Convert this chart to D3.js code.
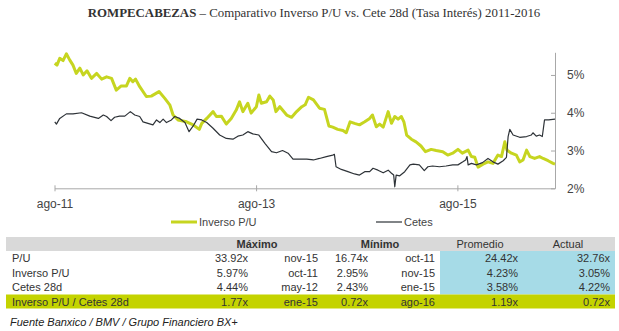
<!DOCTYPE html>
<html>
<head>
<meta charset="utf-8">
<script src="https://cdn.jsdelivr.net/npm/d3@7"></script>
<style>
  html, body { margin: 0; padding: 0; background: #fff; }
  svg { display: block; }
</style>
</head>
<body>
<svg id="chart" width="619" height="331"></svg>
<script>
// ---------------- DATA ----------------
const titleBold = "ROMPECABEZAS";
const titleRest = " \u2013 Comparativo Inverso P/U vs. Cete 28d (Tasa Interés) 2011-2016";

const seriesNames = ["Inverso P/U", "Cetes"];

const inversoPU = [
["2011-08-02",5.31],["2011-08-10",5.26],["2011-08-20",5.44],["2011-09-01",5.38],["2011-09-13",5.56],["2011-09-25",5.40],["2011-10-07",5.26],["2011-10-19",5.04],["2011-11-01",5.18],["2011-11-13",5.00],["2011-11-27",5.11],["2011-12-13",4.91],["2012-01-01",5.04],["2012-01-19",4.89],["2012-02-06",4.95],["2012-02-24",4.91],["2012-03-12",4.60],["2012-03-30",4.71],["2012-04-18",4.71],["2012-04-30",4.91],["2012-05-11",4.82],["2012-05-21",4.89],["2012-06-05",4.69],["2012-06-29",4.43],["2012-07-17",4.44],["2012-08-14",4.56],["2012-09-04",4.38],["2012-09-22",4.21],["2012-10-04",3.94],["2012-10-22",3.81],["2012-11-22",3.76],["2012-12-16",3.68],["2013-01-07",3.56],["2013-01-16",3.72],["2013-02-03",3.85],["2013-02-26",4.03],["2013-03-10",3.90],["2013-03-28",3.91],["2013-04-15",3.70],["2013-05-03",3.85],["2013-05-21",4.07],["2013-06-02",4.29],["2013-06-14",4.03],["2013-07-02",4.25],["2013-07-14",3.99],["2013-08-02",4.16],["2013-08-11",4.47],["2013-08-20",4.25],["2013-09-08",4.29],["2013-09-20",4.44],["2013-10-02",4.34],["2013-10-12",4.03],["2013-10-26",4.16],["2013-11-20",3.94],["2013-12-08",3.88],["2013-12-26",4.03],["2014-01-14",4.16],["2014-01-26",4.21],["2014-02-07",4.41],["2014-02-25",4.34],["2014-03-19",4.12],["2014-04-06",4.09],["2014-04-22",3.65],["2014-05-06",3.62],["2014-05-24",3.56],["2014-06-12",3.53],["2014-06-24",3.47],["2014-07-08",3.76],["2014-07-24",3.72],["2014-08-11",3.68],["2014-08-30",3.76],["2014-09-17",3.85],["2014-09-27",3.94],["2014-10-11",3.63],["2014-10-23",3.70],["2014-11-05",3.62],["2014-11-23",4.03],["2014-12-05",3.72],["2014-12-17",3.90],["2014-12-29",3.83],["2015-01-10",3.90],["2015-01-19",3.76],["2015-01-29",3.41],["2015-02-15",3.30],["2015-03-04",3.23],["2015-03-22",3.12],["2015-04-07",2.97],["2015-04-28",3.03],["2015-05-16",3.00],["2015-06-09",2.97],["2015-06-27",2.88],["2015-07-15",2.93],["2015-08-03",3.03],["2015-08-19",2.93],["2015-09-09",3.01],["2015-09-21",2.84],["2015-10-03",2.82],["2015-10-15",2.56],["2015-11-02",2.64],["2015-11-20",2.70],["2015-12-08",2.66],["2015-12-26",2.88],["2016-01-08",2.84],["2016-01-20",3.23],["2016-01-28",3.01],["2016-02-13",2.93],["2016-03-02",2.88],["2016-03-14",2.70],["2016-03-26",2.75],["2016-04-08",3.01],["2016-04-20",2.84],["2016-05-07",2.79],["2016-05-25",2.84],["2016-06-07",2.79],["2016-06-25",2.73],["2016-07-13",2.66],["2016-07-20",2.64]
];

const cetes = [
["2011-08-02",3.76],["2011-08-08",3.70],["2011-08-20",3.85],["2011-09-13",3.97],["2011-10-07",3.97],["2011-11-07",4.00],["2011-12-07",3.91],["2012-01-07",3.85],["2012-01-25",3.94],["2012-02-06",3.90],["2012-02-22",3.79],["2012-03-06",3.88],["2012-03-24",3.91],["2012-04-12",3.91],["2012-05-02",4.03],["2012-05-18",3.94],["2012-06-05",3.90],["2012-06-17",3.76],["2012-07-23",3.68],["2012-08-05",3.81],["2012-08-17",3.74],["2012-08-29",3.83],["2012-09-10",3.74],["2012-09-28",3.81],["2012-10-10",3.90],["2012-10-28",3.85],["2012-11-16",3.74],["2012-12-01",3.50],["2012-12-16",3.65],["2012-12-30",3.83],["2013-01-16",3.81],["2013-02-03",3.74],["2013-02-26",3.59],["2013-03-22",3.41],["2013-04-15",3.32],["2013-05-09",3.30],["2013-05-27",3.38],["2013-06-14",3.41],["2013-07-02",3.50],["2013-07-20",3.44],["2013-08-11",3.41],["2013-09-02",3.19],["2013-09-26",2.97],["2013-10-14",2.94],["2013-11-05",3.00],["2013-11-25",2.93],["2013-12-13",2.77],["2014-01-14",2.77],["2014-02-01",2.77],["2014-02-25",2.75],["2014-03-19",2.79],["2014-04-13",2.84],["2014-05-06",2.88],["2014-05-12",2.90],["2014-05-18",2.57],["2014-06-06",2.50],["2014-06-30",2.44],["2014-07-24",2.38],["2014-08-11",2.35],["2014-08-30",2.44],["2014-09-17",2.44],["2014-09-29",2.53],["2014-10-17",2.48],["2014-11-05",2.41],["2014-11-23",2.48],["2014-12-05",2.40],["2014-12-13",2.35],["2014-12-17",2.04],["2014-12-22",2.35],["2015-01-04",2.33],["2015-01-22",2.44],["2015-02-10",2.62],["2015-02-22",2.64],["2015-03-16",2.62],["2015-04-03",2.47],["2015-04-16",2.57],["2015-05-03",2.59],["2015-05-28",2.57],["2015-06-21",2.59],["2015-07-15",2.62],["2015-08-03",2.62],["2015-08-21",2.70],["2015-08-31",2.75],["2015-09-05",2.84],["2015-09-09",2.62],["2015-09-21",2.66],["2015-10-09",2.62],["2015-10-31",2.68],["2015-11-20",2.79],["2015-12-08",2.70],["2015-12-26",2.64],["2016-01-14",2.73],["2016-01-26",2.82],["2016-02-01",3.37],["2016-02-07",3.56],["2016-02-19",3.41],["2016-03-14",3.35],["2016-04-08",3.37],["2016-04-25",3.41],["2016-05-01",3.47],["2016-05-13",3.38],["2016-05-25",3.41],["2016-06-04",3.37],["2016-06-12",3.81],["2016-06-27",3.81],["2016-07-20",3.83]
];

const xTickDates = ["2011-08-01", "2013-08-01", "2015-08-01"];
const xTickLabels = ["ago-11", "ago-13", "ago-15"];
const yTicks = [2, 3, 4, 5];

const tableColumns = ["Máximo", "Mínimo", "Promedio", "Actual"];
const tableRows = ["P/U", "Inverso P/U", "Cetes 28d", "Inverso P/U / Cetes 28d"];
const maxValues = ["33.92x", "5.97%", "4.44%", "1.77x"];
const maxDates  = ["nov-15", "oct-11", "may-12", "ene-15"];
const minValues = ["16.74x", "2.95%", "2.43%", "0.72x"];
const minDates  = ["oct-11", "nov-15", "ene-15", "ago-16"];
const avgValues = ["24.42x", "4.23%", "3.58%", "1.19x"];
const actValues = ["32.76x", "3.05%", "4.22%", "0.72x"];

const sourceNote = "Fuente Banxico / BMV / Grupo Financiero BX+";

// ---------------- DRAW ----------------
const svg = d3.select("#chart");
const parse = d3.timeParse("%Y-%m-%d");
const SANS = "'Liberation Sans', Arial, sans-serif";
const GREEN = "#c6d520";
const DARK = "#2e3338";
const AXIS = "#a8a8a8";

// Title
const title = svg.append("text")
  .attr("x", 314).attr("y", 17)
  .attr("text-anchor", "middle")
  .attr("font-family", "'Liberation Serif', 'Times New Roman', serif")
  .attr("font-size", 13)
  .attr("fill", "#333");
title.append("tspan").attr("font-weight", "bold").text(titleBold);
title.append("tspan").text(titleRest);
// fit title width to reference span (~453px)
const tw = title.node().getComputedTextLength();
title.attr("font-size", 13 * 453 / tw);

// Scales
const x = d3.scaleTime()
  .domain([parse("2011-08-01"), parse("2016-07-20")])
  .range([54.5, 555]);
const y = d3.scaleLinear().domain([2, 5.6]).range([188.3, 52.3]);

// X axis
const xAxis = d3.axisBottom(x)
  .tickValues(xTickDates.map(parse))
  .tickFormat((d, i) => xTickLabels[i])
  .tickSize(3).tickSizeOuter(0).tickPadding(8);
const gx = svg.append("g").attr("transform", "translate(0,188.3)").call(xAxis);
gx.select(".domain").attr("stroke", AXIS);
gx.selectAll(".tick line").attr("stroke", AXIS).attr("y1", -3).attr("y2", 3);
gx.selectAll(".tick text").attr("font-family", SANS).attr("font-size", 12).attr("fill", "#444");

// Y axis (right side)
const yAxis = d3.axisRight(y).tickValues(yTicks).tickFormat(d => d + "%")
  .tickSize(4).tickSizeOuter(0).tickPadding(8);
const gy = svg.append("g").attr("transform", "translate(555,0)").call(yAxis);
gy.select(".domain").attr("stroke", AXIS);
gy.selectAll(".tick line").attr("stroke", AXIS).attr("x1", -4).attr("x2", 0);
gy.selectAll(".tick text").attr("font-family", SANS).attr("font-size", 12).attr("fill", "#444");

// Lines
const line = d3.line().x(d => x(parse(d[0]))).y(d => y(d[1]));
svg.append("path").datum(inversoPU).attr("d", line)
  .attr("fill", "none").attr("stroke", GREEN).attr("stroke-width", 3)
  .attr("stroke-linejoin", "round");
svg.append("path").datum(cetes).attr("d", line)
  .attr("fill", "none").attr("stroke", DARK).attr("stroke-width", 1.2)
  .attr("stroke-linejoin", "round");

// Legend
const legend = [
  { name: seriesNames[0], x1: 171, color: GREEN, w: 3 },
  { name: seriesNames[1], x1: 376, color: DARK, w: 1.2 }
];
legend.forEach(l => {
  svg.append("line").attr("x1", l.x1).attr("x2", l.x1 + 26).attr("y1", 222).attr("y2", 222)
    .attr("stroke", l.color).attr("stroke-width", l.w);
  svg.append("text").attr("x", l.x1 + 28).attr("y", 226)
    .attr("font-family", SANS).attr("font-size", 11).attr("fill", "#444").text(l.name);
});

// Table
const tblX0 = 6, tblX1 = 615;
const headerY = 237, headerH = 14;
const rowYs = [251, 265.5, 280, 294.5];
const rowHs = [14.5, 14.5, 14.5, 14];
svg.append("rect").attr("x", tblX0).attr("y", headerY).attr("width", tblX1 - tblX0).attr("height", headerH)
  .attr("fill", "#d9d9d9");
// blue cells
svg.append("rect").attr("x", 440).attr("y", rowYs[0]).attr("width", tblX1 - 440).attr("height", rowYs[3] - rowYs[0])
  .attr("fill", "#a6dbe7");
// green row
svg.append("rect").attr("x", tblX0).attr("y", rowYs[3]).attr("width", tblX1 - tblX0).attr("height", rowHs[3])
  .attr("fill", "#c4d300");

const headerCenters = [257, 380, 480, 568];
tableColumns.forEach((c, i) => {
  svg.append("text").attr("x", headerCenters[i]).attr("y", headerY + 11)
    .attr("text-anchor", "middle").attr("font-family", SANS).attr("font-size", 11)
    .attr("font-weight", i < 2 ? "bold" : "normal").attr("fill", "#333").text(c);
});

const colRight = [248, 318, 368, 435, 518, 610];
const cols = [maxValues, maxDates, minValues, minDates, avgValues, actValues];
tableRows.forEach((r, i) => {
  const ty = rowYs[i] + 11;
  svg.append("text").attr("x", 12).attr("y", ty)
    .attr("font-family", SANS).attr("font-size", 11).attr("fill", "#333").text(r);
  cols.forEach((col, j) => {
    svg.append("text").attr("x", colRight[j]).attr("y", ty).attr("text-anchor", "end")
      .attr("font-family", SANS).attr("font-size", 11).attr("fill", "#333").text(col[i]);
  });
});

svg.append("text").attr("x", 10).attr("y", 326)
  .attr("font-family", SANS).attr("font-size", 11).attr("font-style", "italic")
  .attr("fill", "#222").text(sourceNote);
</script>
</body>
</html>
